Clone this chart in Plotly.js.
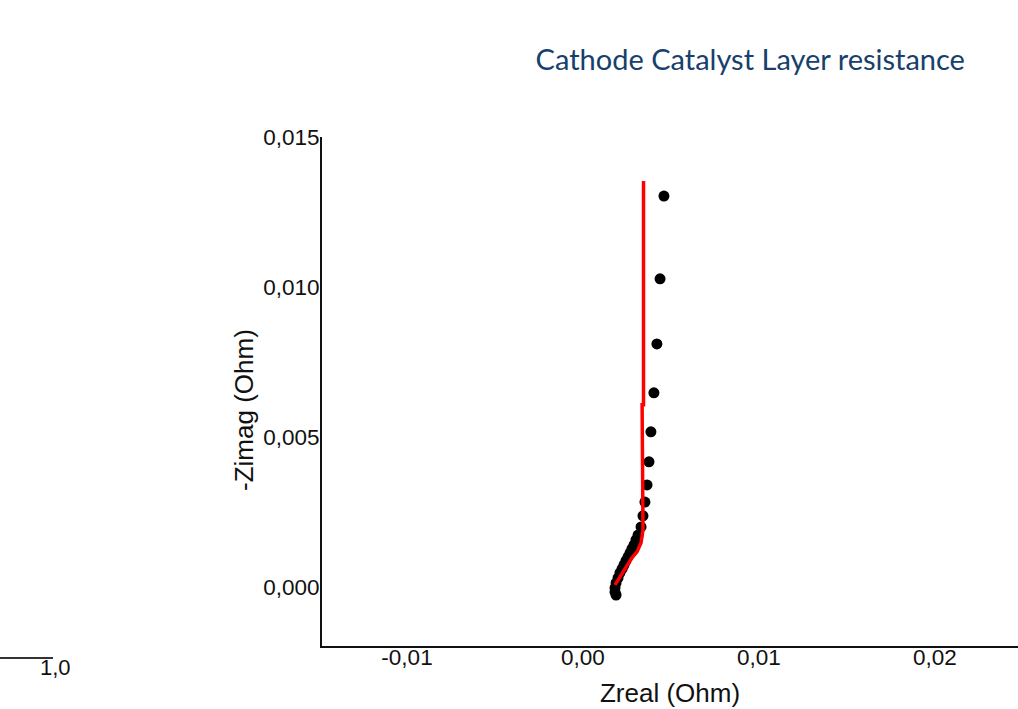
<!DOCTYPE html>
<html>
<head>
<meta charset="utf-8">
<script src="https://cdn.plot.ly/plotly-3.0.1.min.js"></script>
<style>html,body{margin:0;padding:0;background:#fff;}#chart{width:1018px;height:709px;}</style>
</head>
<body>
<div id="chart"></div>
<script>
// Measured impedance points (Ohm)
const zrealMeasured = [0.00460, 0.00438, 0.00420, 0.00403, 0.00386, 0.00375, 0.00364, 0.00352, 0.00341, 0.00330,
  0.00313, 0.00301, 0.00290, 0.00278, 0.00267, 0.00256, 0.00244, 0.00233, 0.00222, 0.00210,
  0.00199, 0.00188, 0.00182, 0.00182, 0.00188];
const zimagMeasured = [0.01303, 0.01027, 0.00810, 0.00647, 0.00517, 0.00417, 0.00340, 0.00283, 0.00237, 0.00200,
  0.00173, 0.00157, 0.00140, 0.00127, 0.00113, 0.00100, 0.00087, 0.00073, 0.00060, 0.00047,
  0.00030, 0.00013, -0.00003, -0.00017, -0.00027];
// Fitted model curve (Ohm)
const zrealFit = [0.00182, 0.00210, 0.00250, 0.00278, 0.00307, 0.00330, 0.00341, 0.00337, 0.00336, 0.00344, 0.00344];
const zimagFit = [0.00007, 0.00033, 0.00067, 0.00097, 0.00117, 0.00147, 0.00190, 0.00390, 0.00607, 0.00607, 0.01353];
// Axis ticks
const xTickVals = [-0.01, 0, 0.01, 0.02];
const xTickText = ['-0,01', '0,00', '0,01', '0,02'];
const yTickVals = [0, 0.005, 0.010, 0.015];
const yTickText = ['0,000', '0,005', '0,010', '0,015'];

const traces = [
  {x: zrealMeasured, y: zimagMeasured, type: 'scatter', mode: 'markers',
   marker: {color: '#000', size: 11}, hoverinfo: 'x+y'},
  {x: zrealFit, y: zimagFit, type: 'scatter', mode: 'lines',
   line: {color: '#ff0000', width: 3.5}, hoverinfo: 'x+y'}
];

const arial = 'Liberation Sans, Arial, sans-serif';
const tickFont = {family: arial, size: 22.5, color: '#111'};
const layout = {
  width: 1018, height: 709,
  margin: {l: 322, r: 0, t: 137, b: 63, pad: 0},
  paper_bgcolor: '#fff', plot_bgcolor: '#fff',
  showlegend: false,
  title: {text: 'Cathode Catalyst Layer resistance',
    font: {family: 'Lato, Carlito, sans-serif', size: 29, color: '#17406c'},
    xref: 'container', yref: 'container', x: 0.737, y: 0.915, xanchor: 'center', yanchor: 'middle'},
  xaxis: {range: [-0.01483, 0.02472], tickvals: xTickVals, ticktext: xTickText,
    showgrid: false, zeroline: false, showline: true, linecolor: '#111', linewidth: 2,
    ticks: '', tickfont: tickFont, ticklabelstandoff: -10,
    title: {text: 'Zreal (Ohm)', font: {family: arial, size: 26, color: '#111'}, standoff: 15}},
  yaxis: {range: [-0.00197, 0.015], tickvals: yTickVals, ticktext: yTickText,
    showgrid: false, zeroline: false, showline: true, linecolor: '#111', linewidth: 2,
    ticks: '', tickfont: tickFont, ticklabelstandoff: -4},
  shapes: [
    {type: 'line', xref: 'paper', yref: 'paper', x0: -0.4626, x1: -0.3865, y0: -0.0236, y1: -0.0236,
     line: {color: '#333', width: 2}}
  ],
  annotations: [
    {text: '-Zimag (Ohm)', xref: 'paper', yref: 'paper', x: -0.1121, y: 0.4637, textangle: -90,
     xanchor: 'center', yanchor: 'middle', showarrow: false, font: {family: arial, size: 26, color: '#111'}},
    {text: '1,0', xref: 'paper', yref: 'paper', x: -0.3836, y: -0.0413, xanchor: 'center', yanchor: 'middle',
     showarrow: false, font: {family: arial, size: 22, color: '#111'}}
  ]
};

Plotly.newPlot('chart', traces, layout, {displayModeBar: false, staticPlot: true});
</script>
</body>
</html>
